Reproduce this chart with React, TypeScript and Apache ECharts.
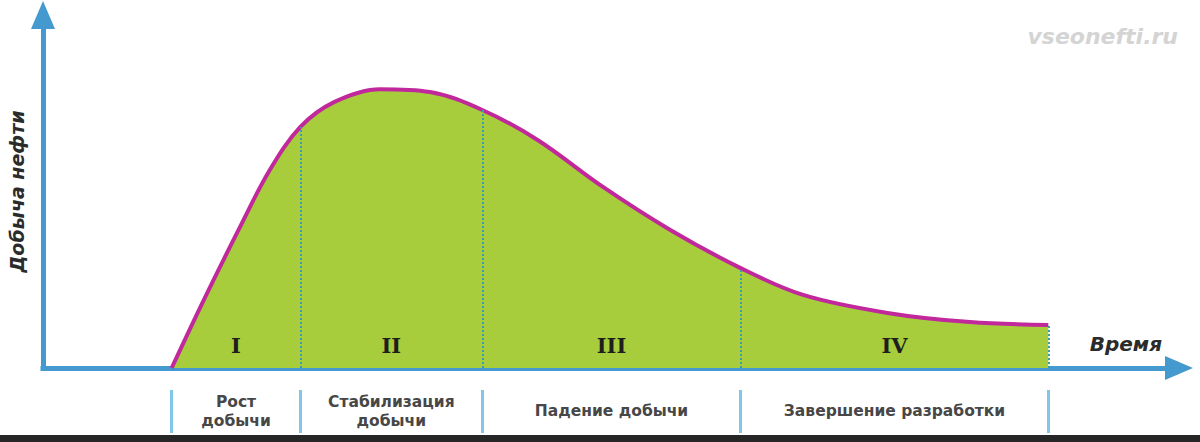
import React, { useEffect, useRef } from "react";
import * as echarts from "echarts";

// Time (arbitrary units) and oil production (relative units)
const timeValues = [12.8, 16, 19.5, 22.5, 25.6, 29, 33.5, 38.5, 43.7, 49.2, 55.7, 62.4, 69.4, 75.6, 84.0, 92.2, 100];
const production = [0, 19.3, 39.4, 55.8, 68.3, 75.4, 79.0, 78.2, 73.1, 64.6, 51.3, 39.1, 28.3, 20.7, 15.6, 13.0, 12.2];

// Stage boundaries on the time axis
const stageBounds = [12.8, 25.6, 43.7, 69.4, 100];
const stageNumerals = ["I", "II", "III", "IV"];
const stageNames = ["Рост\nдобычи", "Стабилизация\nдобычи", "Падение добычи", "Завершение разработки"];

const xAxisName = "Время";
const yAxisName = "Добыча нефти";
const watermark = "vseonefti.ru";

const X_MAX = 113;
const Y_MAX = 100;

export default function App() {
  const ref = useRef<HTMLDivElement>(null);

  useEffect(() => {
    if (!ref.current) return;
    const chart = echarts.init(ref.current, null, { renderer: "svg" });

    const mids = stageBounds.slice(0, -1).map((b, i) => (b + stageBounds[i + 1]) / 2);
    const idxOf = (v: number) => {
      let best = 0;
      mids.forEach((m, i) => {
        if (Math.abs(m - v) < Math.abs(mids[best] - v)) best = i;
      });
      return best;
    };
    const yAt = (x: number) => {
      const i = timeValues.findIndex((t) => Math.abs(t - x) < 1e-6);
      return i >= 0 ? production[i] : 0;
    };

    const blue = "#4499cf";
    const data = timeValues.map((t, i) => [t, production[i]]);

    chart.setOption({
      animation: false,
      backgroundColor: "#ffffff",
      grid: { left: 43, right: 21, top: 15, bottom: 74, outerBoundsMode: "none", containLabel: false },
      xAxis: [
        {
          type: "value",
          min: 0,
          max: X_MAX,
          position: "bottom",
          axisLine: {
            show: true,
            symbol: ["none", "triangle"],
            symbolSize: [24, 28],
            lineStyle: { color: blue, width: 5, cap: "square" },
          },
          axisTick: { show: false },
          axisLabel: { show: false },
          splitLine: { show: false },
          name: xAxisName,
          nameLocation: "end",
          nameGap: -17,
          nameTextStyle: {
            align: "right",
            verticalAlign: "bottom",
            padding: [0, 0, 14, 0],
            fontFamily: "DejaVu Sans",
            fontStyle: "italic",
            fontWeight: "bold",
            fontSize: 20,
            color: "#2b2b2b",
          },
        },
        {
          type: "value",
          min: 0,
          max: X_MAX,
          position: "bottom",
          offset: 22,
          axisLine: { show: false },
          axisTick: {
            show: true,
            inside: false,
            length: 43,
            customValues: stageBounds,
            lineStyle: { color: "#7fc6ea", width: 3 },
          },
          axisLabel: {
            show: true,
            customValues: mids,
            margin: 21,
            verticalAlign: "middle",
            align: "center",
            lineHeight: 19,
            fontFamily: "DejaVu Sans",
            fontWeight: "bold",
            fontSize: 15.5,
            color: "#474747",
            formatter: (v: number) => stageNames[idxOf(v)],
          },
          splitLine: { show: false },
        },
        {
          type: "value",
          min: 0,
          max: X_MAX,
          position: "bottom",
          z: 20,
          axisLine: { show: false },
          axisTick: { show: false },
          axisLabel: {
            show: true,
            inside: true,
            customValues: mids,
            margin: 23,
            verticalAlign: "middle",
            fontFamily: "DejaVu Serif",
            fontWeight: "bold",
            fontSize: 21,
            color: "#1e1e1e",
            formatter: (v: number) => stageNumerals[idxOf(v)],
          },
          splitLine: { show: false },
        },
      ],
      yAxis: {
        type: "value",
        min: 0,
        max: Y_MAX,
        axisLine: {
          show: true,
          symbol: ["none", "triangle"],
          symbolSize: [24, 28],
          lineStyle: { color: blue, width: 5, cap: "square" },
        },
        axisTick: { show: false },
        axisLabel: { show: false },
        splitLine: { show: false },
        name: yAxisName,
        nameLocation: "middle",
        nameGap: 17,
        nameRotate: 90,
        nameTextStyle: {
          fontFamily: "DejaVu Sans",
          fontStyle: "italic",
          fontWeight: "bold",
          fontSize: 19,
          color: "#2b2b2b",
        },
      },
      series: [
        {
          type: "line",
          xAxisIndex: 0,
          data,
          smooth: 0.35,
          symbol: "none",
          z: 3,
          lineStyle: { color: "#c0289b", width: 4 },
          areaStyle: { color: "#a7cd3c", opacity: 1 },
          markLine: {
            silent: true,
            symbol: "none",
            label: { show: false },
            lineStyle: { color: "#3a9eb0", width: 2, type: "dotted" },
            data: stageBounds.slice(1).map((b) => [
              { coord: [b, 0] },
              { coord: [b, yAt(b)] },
            ]),
          },
        },
      ],
      graphic: [
        {
          type: "text",
          right: 22,
          top: 25,
          style: {
            text: watermark,
            fontFamily: "DejaVu Sans",
            fontStyle: "italic",
            fontWeight: "bold",
            fontSize: 22,
            fill: "#d4d4d4",
          },
        },
        {
          type: "rect",
          left: 0,
          top: 435,
          shape: { width: 1200, height: 7 },
          style: { fill: "#262626" },
        },
      ],
    });

    return () => chart.dispose();
  }, []);

  return (
    <div
      ref={ref}
      style={{ position: "fixed", left: 0, top: 0, width: 1200, height: 442 }}
    />
  );
}
